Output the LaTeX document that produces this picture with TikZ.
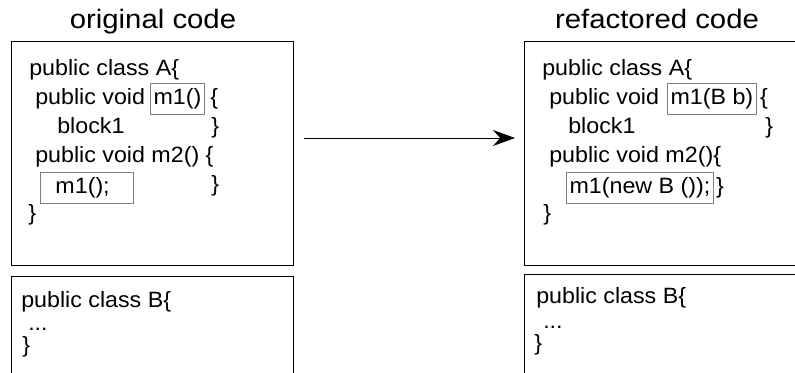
\documentclass[tikz,border=0pt]{standalone}
\usepackage{fontspec}
\setmainfont[FakeStretch=1.05]{Liberation Sans}
\newfontfamily\headfont[FakeStretch=1.1]{Liberation Sans}
\usetikzlibrary{calc,positioning,arrows.meta}

\tikzset{
  codebox/.style={draw, line width=1.1pt, rectangle, anchor=north west, inner sep=0pt},
  codeline/.style={anchor=base west, inner sep=0pt, font=\fontsize{16.6}{19}\selectfont},
  hilite/.style={draw=gray, line width=0.9pt, rectangle, anchor=north west, inner xsep=2.25pt, inner ysep=0pt,
     minimum height=23pt, font=\fontsize{16.6}{19}\selectfont},
  headline/.style={anchor=base, inner sep=0pt, font=\headfont\fontsize{20}{23}\selectfont}
}

\begin{document}
\begin{tikzpicture}[x=0.75pt, y=-0.75pt]
   \useasboundingbox (0, 0) rectangle (795, 372);
   \clip (0, 0) rectangle (795, 372);

        % titles
        \node[headline] (headorig) at (153, 28){original code};
        \node[headline] (headnew) at (657, 28){refactored code};

        % boxes
        \node[codebox, minimum width=211.5pt, minimum height=168pt] (origA) at (11, 41){};
        \node[codebox, minimum width=211.5pt, minimum height=90pt] (origB) at (11, 276){};
        \node[codebox, minimum width=225pt, minimum height=168pt] (newA) at (524, 41){};
        \node[codebox, minimum width=225pt, minimum height=90pt] (newB) at (524, 274){};

        % original class A
            \node[codeline] (oa1) at (29, 75){public class A\{};
            \node[codeline] (oa2) at (35, 104){public void};
              \node[hilite] (odef) at (150, 83){m1()};
              \node[codeline] (oa2b) at (210, 104){\{};
            \node[codeline] (oa3) at (57, 133){block1};
              \node[codeline] (oa3b) at (211, 133){\}};
            \node[codeline] (oa4) at (35, 162){public void m2() \{};
              \node[hilite, minimum width=69.75pt] (ocall) at (40, 172){m1();\hspace*{6.75pt}};
              \node[codeline] (oa5b) at (211, 191){\}};
            \node[codeline] (oa6) at (28, 220){\}};

        % original class B
            \node[codeline] (ob1) at (21, 307){public class B\{};
            \node[codeline] (ob2) at (28, 330){...};
            \node[codeline] (ob3) at (22, 352){\}};

        % refactored class A
            \node[codeline] (na1) at (542, 75){public class A\{};
            \node[codeline] (na2) at (549, 104){public void};
              \node[hilite] (ndef) at (667, 83){m1(B b)};
              \node[codeline, right=2.25pt of ndef] (na2b){\{};
            \node[codeline] (na3) at (568, 133){block1};
              \node[codeline] (na3b) at (765, 133){\}};
            \node[codeline] (na4) at (549, 162){public void m2()\{};
              \node[hilite] (ncall) at (566, 172){m1(new B ());};
              \node[codeline, right=1.5pt of ncall] (na5b){\}};
            \node[codeline] (na6) at (543, 220){\}};

        % refactored class B
            \node[codeline] (nb1) at (536, 303){public class B\{};
            \node[codeline] (nb2) at (543, 328){...};
            \node[codeline] (nb3) at (534, 350){\}};

        % arrow
        \coordinate (arrowy) at (0, 138);
        \draw[-{Stealth[length=16.5pt, width=12pt]}, line width=0.75pt, shorten <=7.5pt, shorten >=6.75pt]
             (origA.east |- arrowy) -- (newA.west |- arrowy);

\end{tikzpicture}
\end{document}
